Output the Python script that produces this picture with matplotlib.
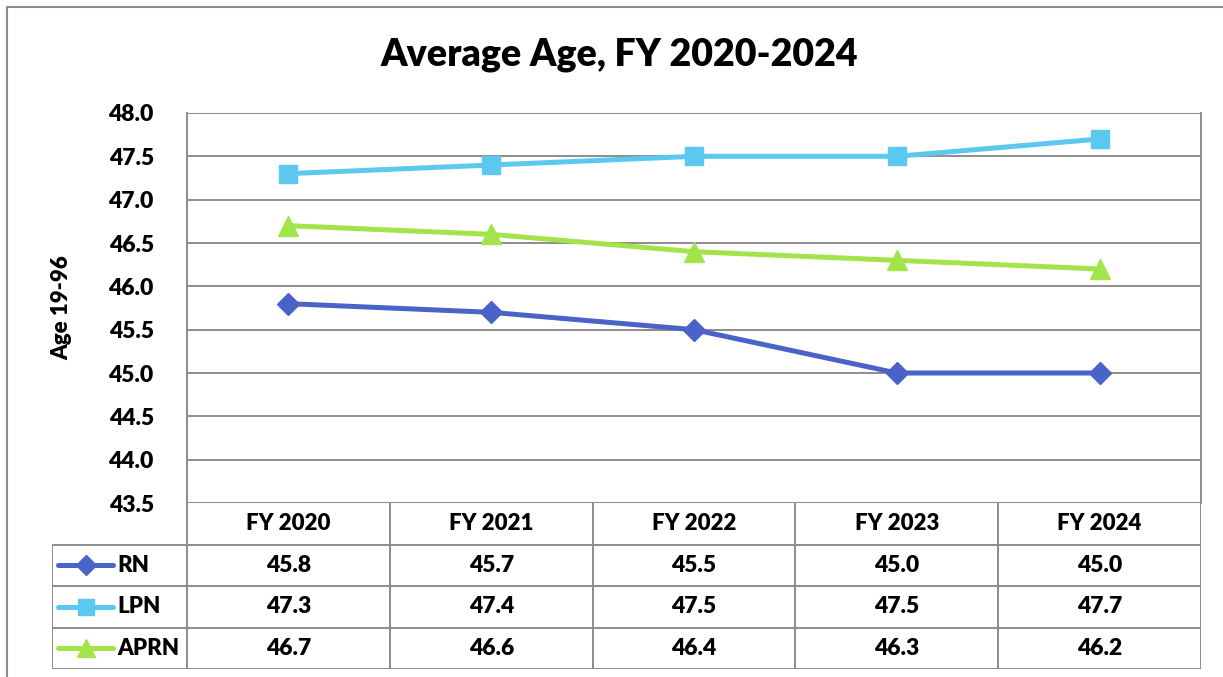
import matplotlib
matplotlib.use('Agg')
import matplotlib.pyplot as plt
import numpy as np

plt.rcParams['font.family'] = ['Lato', 'DejaVu Sans']
plt.rcParams['font.weight'] = 'bold'

years = ['FY 2020', 'FY 2021', 'FY 2022', 'FY 2023', 'FY 2024']
rn = [45.8, 45.7, 45.5, 45.0, 45.0]
lpn = [47.3, 47.4, 47.5, 47.5, 47.7]
aprn = [46.7, 46.6, 46.4, 46.3, 46.2]

series = [
    ('RN', rn, '#4A63C8', 'D', 11),
    ('LPN', lpn, '#5BC8F0', 's', 13),
    ('APRN', aprn, '#A3E44B', '^', 14),
]

W, H = 1223, 677
grid_c = '#8C8C8C'
fw = 'heavy'

fig = plt.figure(figsize=(W / 100, H / 100), dpi=100)

def rect(x0, y0, x1, y1):
    return [x0 / W, 1 - y1 / H, (x1 - x0) / W, (y1 - y0) / H]

# outer chart border
bg = fig.add_axes([0, 0, 1, 1])
bg.set_xlim(0, W)
bg.set_ylim(H, 0)
bg.axis('off')
bg.plot([7, 7, W + 5], [H + 5, 7, 7], color='#8C8C8C', lw=1.5)

fig.text(619 / W, 1 - 55 / H, 'Average Age, FY 2020-2024', ha='center', va='center',
         fontsize=27, fontweight=fw)

# plot area
ax = fig.add_axes(rect(187, 113, 1201, 503))
x = np.arange(len(years))
for name, vals, c, m, ms in series:
    ax.plot(x, vals, color=c, lw=3.6, marker=m, markersize=ms, zorder=3)
ax.set_xlim(-0.5, len(years) - 0.5)
ax.set_ylim(43.5, 48.0)
ticks = np.arange(43.5, 48.01, 0.5)
ax.set_yticks(ticks)
ax.set_yticklabels(['%.1f' % v for v in ticks], fontsize=16.5, fontweight=fw)
ax.set_xticks([])
ax.yaxis.grid(True, color=grid_c, lw=1.4)
ax.set_axisbelow(True)
ax.tick_params(axis='y', length=0, pad=24)
for side in ['top', 'bottom']:
    ax.spines[side].set_visible(False)
for side in ['left', 'right']:
    ax.spines[side].set_color(grid_c)
    ax.spines[side].set_linewidth(1.4)
ax.set_ylabel('Age 19-96', fontsize=16, fontweight=fw, labelpad=26)

# data table
tab = fig.add_axes(rect(52, 503, 1201, 669))
colw = 202.8
def tx(p):
    return -0.5 + (p - 187) / colw
tab.set_xlim(tx(52), len(years) - 0.5)
tab.set_ylim(4, 0)
tab.axis('off')
lk = dict(color=grid_c, lw=1.4, solid_capstyle='projecting')
left = tx(52)
right = len(years) - 0.5
for i in range(len(years) + 1):
    tab.plot([i - 0.5, i - 0.5], [0, 4], **lk)
tab.plot([left, left], [1, 4], **lk)
for r in range(1, 5):
    tab.plot([left, right], [r, r], **lk)

for i, yr in enumerate(years):
    tab.text(i, 0.5, yr, ha='center', va='center', fontsize=16, fontweight=fw)
for r, (name, vals, c, m, ms) in enumerate(series, start=1):
    tab.plot([tx(58), tx(113)], [r + 0.5, r + 0.5], color=c, lw=3.6,
             solid_capstyle='round')
    tab.plot([tx(85.5)], [r + 0.5], color=c, marker=m, markersize=ms - 1, lw=0)
    tab.text(tx(117), r + 0.5, name, ha='left', va='center', fontsize=16, fontweight=fw)
    for i, v in enumerate(vals):
        tab.text(i, r + 0.5, '%.1f' % v, ha='center', va='center', fontsize=16.5,
                 fontweight=fw)

fig.savefig('out.png', dpi=100)
